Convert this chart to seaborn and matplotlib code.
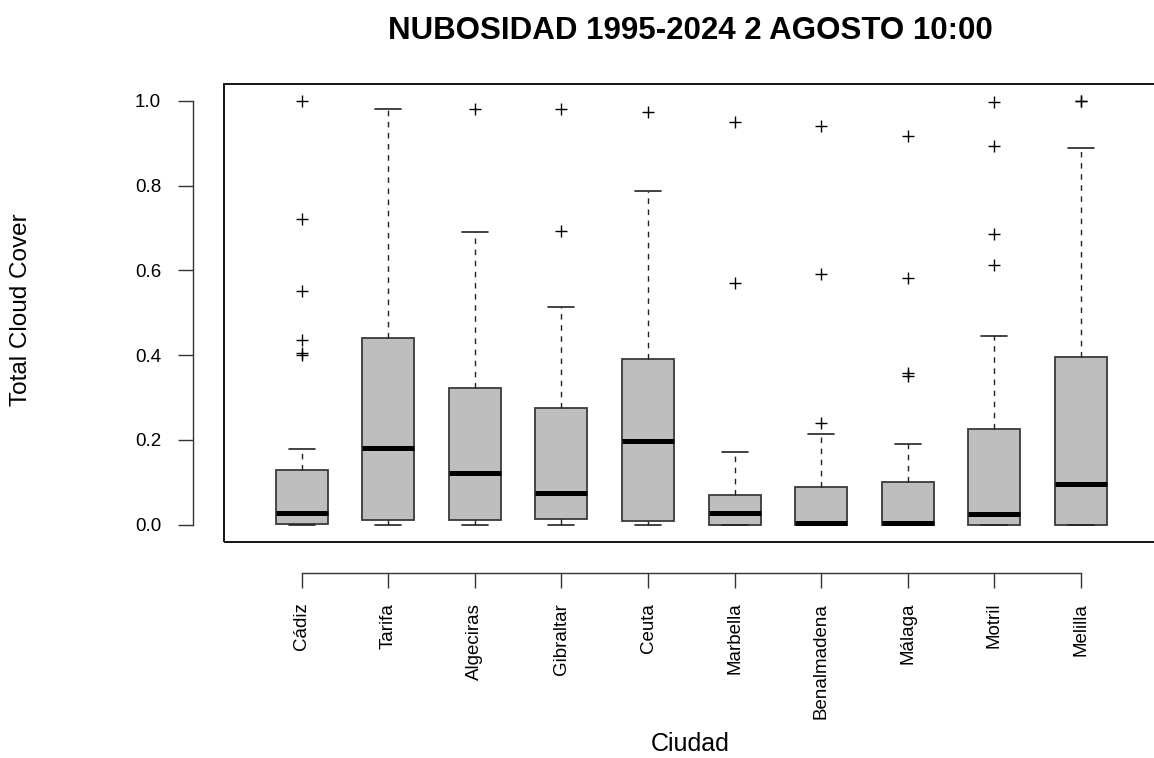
import matplotlib
matplotlib.use("Agg")
import matplotlib.pyplot as plt
import matplotlib.patches as patches
import seaborn as sns

# boxplot summary per city
ciudades = ["Cádiz", "Tarifa", "Algeciras", "Gibraltar", "Ceuta",
            "Marbella", "Benalmadena", "Málaga", "Motril", "Melilla"]
bigote_inf = [0.0, 0.0, 0.0, 0.0, 0.0, 0.0, 0.0, 0.0, 0.0, 0.0]
q1 = [0.002, 0.012, 0.012, 0.014, 0.010, 0.0, 0.0, 0.0, 0.0, 0.0]
mediana = [0.027, 0.182, 0.123, 0.075, 0.197, 0.027, 0.005, 0.005, 0.025, 0.097]
q3 = [0.130, 0.441, 0.323, 0.275, 0.390, 0.071, 0.088, 0.102, 0.225, 0.397]
bigote_sup = [0.178, 0.980, 0.690, 0.515, 0.788, 0.171, 0.213, 0.190, 0.446, 0.889]
atipicos = [
    [1.0, 0.722, 0.552, 0.435, 0.405, 0.400],
    [],
    [0.980],
    [0.694, 0.980],
    [0.974],
    [0.570, 0.950],
    [0.241, 0.592, 0.940],
    [0.357, 0.352, 0.583, 0.918],
    [0.614, 0.687, 0.894, 0.998],
    [0.999, 1.0],
]
yticks = [0.0, 0.2, 0.4, 0.6, 0.8, 1.0]


def build_stats():
    stats = []
    for i in range(len(ciudades)):
        stats.append({"label": ciudades[i], "whislo": bigote_inf[i], "q1": q1[i],
                      "med": mediana[i], "q3": q3[i], "whishi": bigote_sup[i],
                      "fliers": atipicos[i]})
    return stats


def main():
    sns.set_style("ticks")
    plt.rcParams['font.family'] = ['Liberation Sans', 'DejaVu Sans']
    for k in ["text.color", "axes.labelcolor", "xtick.color", "ytick.color"]:
        plt.rcParams[k] = "black"

    fig = plt.figure(figsize=(11.54, 7.58), dpi=100)
    ax = fig.add_axes([0.19385, 0.28536, 0.8105, 0.6038])

    ax.bxp(build_stats(), positions=range(1, len(ciudades) + 1), widths=0.6,
           capwidths=0.3, patch_artist=True,
           boxprops=dict(facecolor="#bebebe", edgecolor="#3a3a3a", linewidth=1.3),
           medianprops=dict(color="black", linewidth=3.6, solid_capstyle="butt"),
           whiskerprops=dict(color="#222222", linewidth=1.0, linestyle=(0, (4, 4))),
           capprops=dict(color="#222222", linewidth=1.2),
           flierprops=dict(marker="+", markersize=9, markeredgecolor="black",
                           markeredgewidth=1.0))

    ax.set_xlim(0.1, 10.9)
    ax.set_ylim(-0.04, 1.04)
    ax.set_yticks(yticks)
    ax.set_xticks(range(1, len(ciudades) + 1))

    sns.despine(ax=ax, offset=22.3, trim=True)
    for s in ["left", "bottom"]:
        ax.spines[s].set_color("#333333")
        ax.spines[s].set_linewidth(1.0)

    ax.set_yticks(yticks)
    ax.set_yticklabels([f"{v:.1f}" for v in yticks])
    ax.set_xticks(range(1, len(ciudades) + 1))
    ax.set_xticklabels(ciudades, rotation=90, va="top", ha="center")
    ax.tick_params(axis="both", length=10.8, width=1.0, color="#333333",
                   labelsize=13.5, direction="out", left=True, bottom=True)
    ax.tick_params(axis="y", pad=12)
    ax.tick_params(axis="x", pad=10.8)

    # R style full frame around the plotting region
    ax.add_patch(patches.Rectangle((0, 0), 1, 1, transform=ax.transAxes, fill=False,
                                   edgecolor="black", linewidth=1.3, clip_on=False))

    fig.text(690 / 1154, 1 - 31 / 758, "NUBOSIDAD 1995-2024 2 AGOSTO 10:00",
             ha="center", va="center", fontsize=22.5, fontweight="bold")
    fig.text(21 / 1154, 1 - 310 / 758, "Total Cloud Cover", rotation=90,
             ha="center", va="center", fontsize=17.5)
    fig.text(690 / 1154, 1 - 744 / 758, "Ciudad", ha="center", va="center",
             fontsize=18)

    fig.savefig("out.png", dpi=100)


if __name__ == '__main__':
    main()
